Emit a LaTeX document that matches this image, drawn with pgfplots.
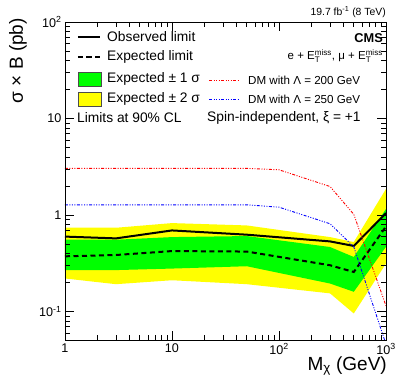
\documentclass[border=0pt]{standalone}
\usepackage{amsmath}
\usepackage{fontspec}
\setmainfont{Liberation Sans}
\usepackage{pgfplots}
\pgfplotsset{compat=1.18}
\usepgfplotslibrary{fillbetween}
\usepackage{pgfplotstable}

\pgfplotstableread{
m    obs    exp    gone   gonehi  gtwo   gtwohi
1    0.600  0.375  0.269  0.557   0.221  0.741
3    0.575  0.387  0.270  0.557   0.193  0.741
10   0.695  0.425  0.280  0.593   0.212  0.828
50   0.628  0.420  0.296  0.608   0.193  0.783
300  0.535  0.303  0.196  0.468   0.155  0.593
500  0.480  0.258  0.161  0.369   0.096  0.527
1000 1.050  0.764  0.470  1.160   0.316  1.870
}\limtab

\pgfplotstableread{
m    dmA    dmB
1    3.05   1.28
3    3.05   1.28
10   3.05   1.28
50   3.05   1.28
100  2.95   1.21
300  1.98   0.815
500  1.02   0.47
1000 0.115  0.046
}\dmtab

\definecolor{rootgreen}{RGB}{0,255,0}
\definecolor{rootyellow}{RGB}{255,255,0}

\begin{document}
\begin{tikzpicture}
\begin{axis}[
  at={(0pt,0pt)}, anchor=south west,
  scale only axis, width=321pt, height=318pt,
  xmode=log, ymode=log,
  xmin=1, xmax=1000, ymin=0.051, ymax=100,
  axis on top,
  tick align=inside,
  major tick length=9pt, minor tick length=5pt,
  xtick={1,10,100,1000},
  xticklabels={1,10,10\textsuperscript{2},10\textsuperscript{3}},
  minor xtick={2,3,4,5,6,7,8,9,20,30,40,50,60,70,80,90,200,300,400,500,600,700,800,900},
  ytick={0.1,1,10,100},
  yticklabels={10\textsuperscript{-1},1,10,10\textsuperscript{2}},
  minor ytick={0.06,0.07,0.08,0.09,0.2,0.3,0.4,0.5,0.6,0.7,0.8,0.9,2,3,4,5,6,7,8,9,20,30,40,50,60,70,80,90},
  tick label style={font=\fontsize{12.6}{14}\selectfont},
  axis line style={line width=0.8pt},
  every tick/.style={black, line width=0.6pt},
]
\addplot[name path=ytop, draw=none] table[x=m, y=gtwohi] {\limtab};
\addplot[name path=ybot, draw=none] table[x=m, y=gtwo] {\limtab};
\addplot[rootyellow] fill between[of=ytop and ybot];
\addplot[name path=gtop, draw=none] table[x=m, y=gonehi] {\limtab};
\addplot[name path=gbot, draw=none] table[x=m, y=gone] {\limtab};
\addplot[rootgreen] fill between[of=gtop and gbot];
\addplot[black, line width=2pt, dash pattern=on 5pt off 3.5pt] table[x=m, y=exp] {\limtab};
\addplot[black, line width=2pt] table[x=m, y=obs] {\limtab};
\addplot[red, line width=0.9pt, dash pattern=on 3pt off 1.5pt on 1pt off 1.5pt on 1pt off 1.5pt on 1pt off 1.5pt] table[x=m, y=dmA] {\dmtab};
\addplot[blue, line width=0.9pt, dash pattern=on 3pt off 1.5pt on 1pt off 1.5pt on 1pt off 1.5pt on 1pt off 1.5pt] table[x=m, y=dmB] {\dmtab};
\end{axis}

\begin{scope}[x=1pt,y=1pt]
% axis titles
\node[rotate=90, anchor=east, inner sep=0pt, font=\fontsize{19}{22}\selectfont] at (-47,322) {σ × B (pb)};
\node[anchor=east, inner sep=0pt, font=\fontsize{19}{22}\selectfont] at (322,-26) {M\textsubscript{χ} (GeV)};

% header texts
\node[anchor=east, inner sep=0pt, font=\fontsize{10.4}{12}\selectfont] at (321,328) {19.7 fb\textsuperscript{-1} (8 TeV)};
\node[anchor=east, inner sep=0pt, font=\fontsize{12.8}{14}\selectfont\bfseries] at (318,302) {CMS};
\node[anchor=east, inner sep=0pt, font=\fontsize{11.5}{13}\selectfont] at (318,284) {e + E$^{\text{miss}}_{\text{T}}$, μ + E$^{\text{miss}}_{\text{T}}$};

% left legend
\draw[black, line width=2pt] (13,303) -- (35,303);
\node[anchor=west, inner sep=0pt, font=\fontsize{13.8}{16}\selectfont] at (42,303) {Observed limit};
\draw[black, line width=2pt, dash pattern=on 5pt off 3.5pt] (13,283) -- (35,283);
\node[anchor=west, inner sep=0pt, font=\fontsize{13.8}{16}\selectfont] at (42,283) {Expected limit};
\filldraw[fill=rootgreen, draw=black!70, line width=0.5pt] (13,254) rectangle (36,268);
\node[anchor=west, inner sep=0pt, font=\fontsize{13.8}{16}\selectfont] at (42,261) {Expected ± 1 σ};
\filldraw[fill=rootyellow, draw=black!70, line width=0.5pt] (13,234) rectangle (36,248);
\node[anchor=west, inner sep=0pt, font=\fontsize{13.8}{16}\selectfont] at (42,241) {Expected ± 2 σ};
\node[anchor=west, inner sep=0pt, font=\fontsize{13.8}{16}\selectfont] at (12,222.5) {Limits at 90\% CL};

% right legend
\draw[red, line width=0.9pt, dash pattern=on 3pt off 1.5pt on 1pt off 1.5pt on 1pt off 1.5pt on 1pt off 1.5pt] (144,260) -- (175,260);
\node[anchor=west, inner sep=0pt, font=\fontsize{11.6}{13}\selectfont] at (183,260) {DM with Λ = 200 GeV};
\draw[blue, line width=0.9pt, dash pattern=on 3pt off 1.5pt on 1pt off 1.5pt on 1pt off 1.5pt on 1pt off 1.5pt] (144,241) -- (175,241);
\node[anchor=west, inner sep=0pt, font=\fontsize{11.6}{13}\selectfont] at (183,241) {DM with Λ = 250 GeV};
\node[anchor=west, inner sep=0pt, font=\fontsize{13.8}{16}\selectfont] at (142,222.5) {Spin-independent, ξ = +1};

\pgfresetboundingbox
\path[use as bounding box] (-65,-51) rectangle (342,340);
\end{scope}
\end{tikzpicture}
\end{document}
